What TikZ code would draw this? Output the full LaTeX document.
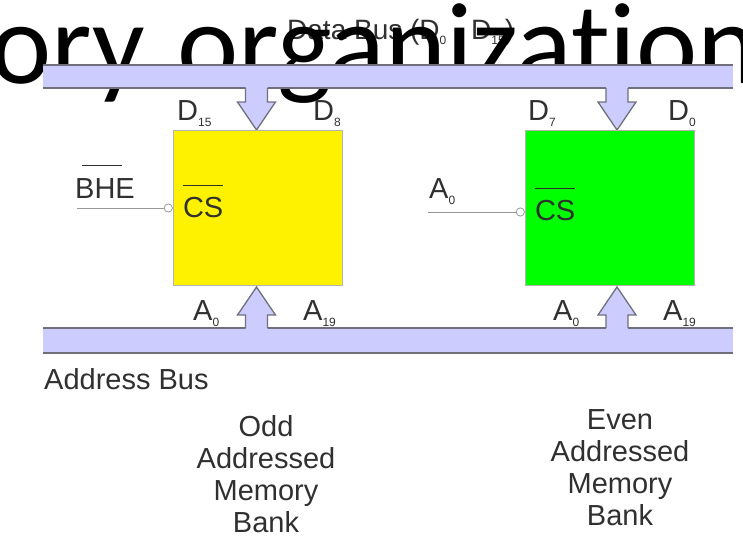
\documentclass[tikz,border=0pt]{standalone}
\usepackage{fontspec}
\setmainfont{Liberation Sans}
\newfontfamily\titlefont{Carlito}[Ligatures=NoCommon]
\usetikzlibrary{arrows.meta,positioning,calc}

\definecolor{busblue}{HTML}{CCCCFF}
\definecolor{busedge}{HTML}{70707C}
\definecolor{labelgray}{HTML}{303030}

\newcommand{\lowsub}[1]{\raisebox{-0.4ex}{\fontsize{12}{12}\selectfont #1}}

\begin{document}
\begin{tikzpicture}[x=1pt,y=-1pt,
  lbl/.style={inner sep=0pt,anchor=base west,text=labelgray,font=\fontsize{29}{29}\selectfont},
  banklbl/.style={inner sep=0pt,anchor=north,align=center,text=labelgray,font=\fontsize{29}{32}\selectfont},
  bank/.style={draw=black!30,thin,minimum width=169pt,minimum height=155pt,inner sep=0pt},
  busline/.style={busedge,line width=1.3pt},
  barline/.style={labelgray,line width=0.8pt},
  ctrl/.style={gray!80,line width=0.8pt,-{Circle[open,length=9pt,width=9pt]}}]
  \useasboundingbox (0,0) rectangle (743,536);

  % Bus name, then the slide title behind the buses
  \node[lbl,font=\fontsize{28}{28}\selectfont] (databus) at (287,39) {Data Bus (D\lowsub{0} - D\lowsub{15})};
  \node[inner sep=0pt,anchor=base west,font=\titlefont\fontsize{116}{116}\selectfont] (title) at (-10,83) {ory\hspace{6pt} organization};

  % Buses
  \fill[busblue] (43,65) rectangle (733,88);
  \fill[busblue] (43,328) rectangle (733,353);
  \draw[busline] (43,65) -- (733,65);
  \draw[busline] (43,88) -- (733,88);
  \draw[busline] (43,328) -- (733,328);
  \draw[busline] (43,353) -- (733,353);

  % Bus arrows into the banks
  \foreach \cx in {256.5,617} {
    \fill[busblue] (\cx-11,86) -- (\cx-11,102) -- (\cx-19,102) -- (\cx,130)
      -- (\cx+19,102) -- (\cx+11,102) -- (\cx+11,86) -- cycle;
    \draw[busline,line join=miter] (\cx-11,88) -- (\cx-11,102) -- (\cx-19,102) -- (\cx,130)
      -- (\cx+19,102) -- (\cx+11,102) -- (\cx+11,88);
    \fill[busblue] (\cx-11,330) -- (\cx-11,315) -- (\cx-19,315) -- (\cx,287)
      -- (\cx+19,315) -- (\cx+11,315) -- (\cx+11,330) -- cycle;
    \draw[busline,line join=miter] (\cx-11,328) -- (\cx-11,315) -- (\cx-19,315) -- (\cx,287)
      -- (\cx+19,315) -- (\cx+11,315) -- (\cx+11,328);
  }

  % Memory banks
  \node[bank,fill=yellow] (odd) at (257.5,207.5) {};
  \node[bank,fill=green] (even) at (609.5,207.5) {};

  % Chip selects
  \node[lbl] (oddcs) at ([xshift=10pt,yshift=-9.5pt]odd.west) {CS};
  \node[lbl] (evencs) at ([xshift=10pt,yshift=-12.5pt]even.west) {CS};
  \draw[barline] ([yshift=11pt]oddcs.north west) -- ([yshift=11pt]oddcs.north east);
  \draw[barline] ([yshift=11pt]evencs.north west) -- ([yshift=11pt]evencs.north east);

  \node[lbl] (bhe) at (75,198) {BHE};
  \draw[barline] ([xshift=7pt,yshift=12pt]bhe.north west) -- ([xshift=-13pt,yshift=12pt]bhe.north east);
  \node[lbl] (a0sel) at (429,198) {A\lowsub{0}};

  \coordinate (bhefree) at (77,208);
  \coordinate (a0free) at (428,212);
  \draw[ctrl] (bhefree) -- (bhefree -| odd.west);
  \draw[ctrl] (a0free) -- (a0free -| even.west);

  % Data lines
  \node[lbl] (d15) at (177,120) {D\lowsub{15}};
  \node[lbl] (d8) at (313,120) {D\lowsub{8}};
  \node[lbl] (d7) at (528,120) {D\lowsub{7}};
  \node[lbl] (d0) at (668,120) {D\lowsub{0}};

  % Address lines
  \node[lbl] (oddalo) at (193,320) {A\lowsub{0}};
  \node[lbl] (oddahi) at (303,320) {A\lowsub{19}};
  \node[lbl] (evenalo) at (553,320) {A\lowsub{0}};
  \node[lbl] (evenahi) at (663,320) {A\lowsub{19}};

  % Bus name and bank names
  \node[lbl] (addrbus) at (44,389) {Address Bus};
  \node[banklbl] (oddname) at (266,415) {Odd\\Addressed\\Memory\\Bank};
  \node[banklbl] (evenname) at (620,409) {Even\\Addressed\\Memory\\Bank};
\end{tikzpicture}
\end{document}
